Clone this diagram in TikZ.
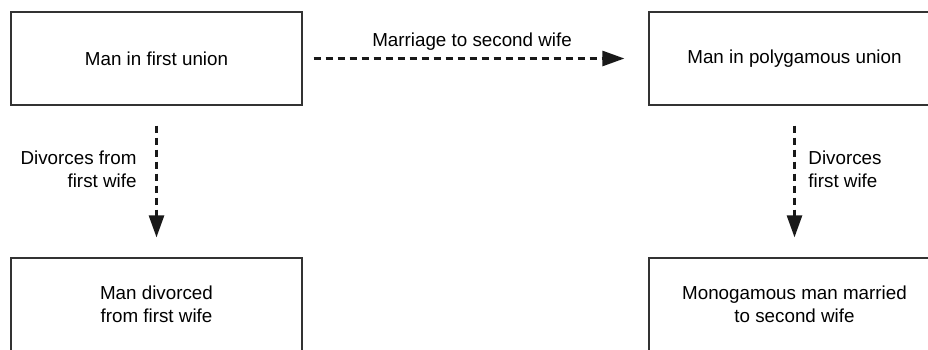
\documentclass[tikz,border=0pt]{standalone}
\usepackage{fontspec}
\setmainfont{Liberation Sans}
\usetikzlibrary{arrows.meta}

\begin{document}
\begin{tikzpicture}[x=0.5pt,y=-0.5pt,
  box/.style={draw=black!80, line width=0.6pt, minimum width=145.5pt, minimum height=46.5pt,
    align=center, font=\fontsize{9.4}{11.3}\selectfont},
  flow/.style={draw=black!90, line width=1.3pt, dash pattern=on 3.8pt off 2.2pt,
    -{Triangle[length=11pt,width=7.5pt]}},
  lbl/.style={font=\fontsize{9.4}{11.3}\selectfont}]
\useasboundingbox (0,0) rectangle (928,349);
\clip (0,0) rectangle (928,349);

\node[box] (first) at (156.5,58.5) {Man in first union};
\node[box] (poly) at (794.5,58.5) {Man in polygamous union};
\node[box] (divorced) at (156.5,304.5) {Man divorced\\from first wife};
\node[box] (mono) at (794.5,304.5) {Monogamous man married\\to second wife};

\draw[flow, shorten <=5.5pt, shorten >=12pt] (first) -- node[lbl, above, pos=0.49] {Marriage to second wife} (poly);
\draw[flow, shorten <=10pt, shorten >=10pt] (first) -- node[lbl, left=6pt, pos=0.42, align=right] {Divorces from\\first wife} (divorced);
\draw[flow, shorten <=10pt, shorten >=10pt] (poly) -- node[lbl, right=3pt, pos=0.42, align=left] {Divorces\\first wife} (mono);
\end{tikzpicture}
\end{document}
